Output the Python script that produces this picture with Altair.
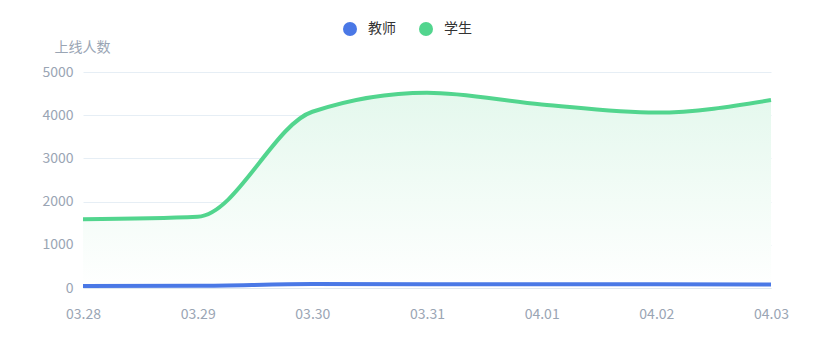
import altair as alt
import pandas as pd

dates = ["03.28", "03.29", "03.30", "03.31", "04.01", "04.02", "04.03"]
teachers = [45, 50, 90, 85, 85, 85, 80]
students = [1590, 1650, 4080, 4520, 4250, 4060, 4350]
series = ["教师", "学生"]
colors = ["#4a78e6", "#52d58e"]
y_ticks = [0, 1000, 2000, 3000, 4000, 5000]

rows = []
for d, t, s in zip(dates, teachers, students):
    rows.append({"date": d, "series": series[0], "value": t})
    rows.append({"date": d, "series": series[1], "value": s})
df = pd.DataFrame(rows)
stu = pd.DataFrame({"date": dates, "value": students})

FONT = "Noto Sans CJK SC"
GREY = "#9aa5b4"
INTERP = "monotone"

x = alt.X(
    "date:O",
    sort=dates,
    scale=alt.Scale(type="point", padding=0),
    axis=alt.Axis(
        title=None, labelAngle=0, ticks=False, domainColor="#dfe7ef",
        labelColor=GREY, labelFontSize=14, labelFont=FONT, labelPadding=19,
        grid=False,
    ),
)
y = alt.Y(
    "value:Q",
    scale=alt.Scale(domain=[0, 5000], nice=False),
    axis=alt.Axis(
        values=y_ticks, format="d", title="上线人数", titleAngle=0, titleAlign="left",
        titleBaseline="middle", titleX=-29, titleY=-25, titleFontSize=14,
        titleFontWeight="normal", titleColor=GREY, titleFont=FONT,
        labelColor=GREY, labelFontSize=14, labelFont=FONT, labelPadding=10,
        ticks=False, domain=False, gridColor="#e6eef5",
    ),
)

color_scale = alt.Scale(domain=series, range=colors)

area = alt.Chart(stu).mark_area(
    interpolate=INTERP,
    color=alt.Gradient(
        gradient="linear",
        stops=[alt.GradientStop(color="#e4f8ed", offset=0),
               alt.GradientStop(color="#ffffff", offset=1)],
        x1=0, x2=0, y1=0, y2=1,
    ),
).encode(x=x, y=y)

points = alt.Chart(df).mark_point(filled=True, opacity=1, size=0).encode(
    x=x,
    y=y,
    color=alt.Color(
        "series:N",
        scale=color_scale,
        legend=alt.Legend(
            title=None, orient="none", direction="horizontal",
            legendX=260, legendY=-50, symbolType="circle", symbolSize=196,
            symbolStrokeWidth=0, symbolOpacity=1, labelFontSize=14, labelFont=FONT,
            labelColor="#333333", labelOffset=11, columnPadding=23, padding=0,
        ),
    ),
)

line = alt.Chart(df).mark_line(interpolate=INTERP, strokeWidth=4).encode(
    x=x,
    y=y,
    color=alt.Color("series:N", scale=color_scale, legend=None),
)

chart = alt.layer(area, points, line).properties(
    width=688,
    height=216,
    autosize=alt.AutoSizeParams(type="none"),
    padding={"left": 75, "top": 64, "right": 34, "bottom": 40},
).configure_view(stroke=None)

chart.save("out.html", embed_options={"renderer": "svg", "actions": False})
